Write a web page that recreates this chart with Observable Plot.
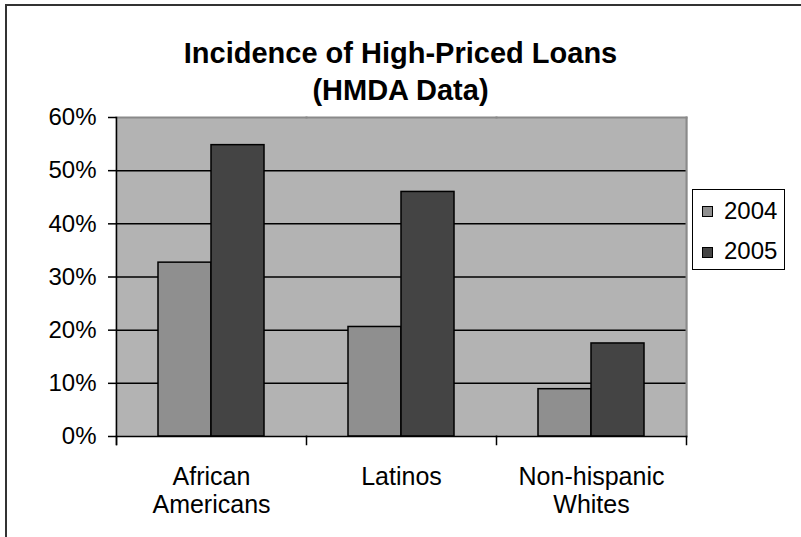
<!DOCTYPE html>
<html>
<head>
<meta charset="utf-8">
<script src="https://cdn.jsdelivr.net/npm/d3@7"></script>
<script src="https://cdn.jsdelivr.net/npm/@observablehq/plot@0.6"></script>
<style>
  body { margin: 0; background: #fff; }
  #chart { position: relative; width: 801px; height: 537px; overflow: hidden;
           font-family: "Liberation Sans", Arial, sans-serif; color: #000; }
  #border { position: absolute; left: 5px; top: 4px; width: 900px; height: 700px;
            border: 2px solid #333; box-sizing: border-box; }
  #plot { position: absolute; left: 0; top: 0; }
  #title { position: absolute; left: 0; top: 35px; width: 801px; text-align: center;
           font-weight: bold; font-size: 29px; line-height: 37px; }
  #legend { position: absolute; left: 692px; top: 189px; width: 93px; height: 81px;
            border: 1px solid #000; box-sizing: border-box; background: #fff; }
  .sw { position: absolute; left: 9px; width: 11px; height: 11px; border: 1px solid #000; box-sizing: border-box; }
  .lb { position: absolute; left: 31px; font-size: 24px; line-height: 24px; }
</style>
</head>
<body>
<div id="chart">
  <div id="border"></div>
  <div id="plot"></div>
  <div id="title">Incidence of High-Priced Loans<br>(HMDA Data)</div>
  <div id="legend"></div>
</div>
<script>
// Share of loans that were high-priced, by group and year (percent)
const categories = ["African Americans", "Latinos", "Non-hispanic Whites"];
const categoryLabels = ["African\nAmericans", "Latinos", "Non-hispanic\nWhites"];
const years = ["2004", "2005"];
const values2004 = [32.7, 20.6, 8.9];
const values2005 = [54.8, 46.0, 17.5];
const yearColors = ["#8f8f8f", "#444444"];
const yTicks = [0, 10, 20, 30, 40, 50, 60];

const rows = categories.flatMap((c, i) => [
  {category: c, year: years[0], value: values2004[i]},
  {category: c, year: years[1], value: values2005[i]}
]);

const W = 801, H = 537;
const mTop = 117, mBottom = 101, mLeft = 115, mRight = 114;
const innerH = H - mTop - mBottom;

const chart = Plot.plot({
  width: W,
  height: H,
  marginTop: mTop,
  marginBottom: mBottom,
  marginLeft: mLeft,
  marginRight: mRight,
  style: {fontFamily: '"Liberation Sans", Arial, sans-serif', color: "#000", background: "transparent"},
  fx: {domain: categories, padding: 0, label: null},
  x: {domain: years, paddingInner: 0, paddingOuter: 0.765, axis: null},
  y: {domain: [0, 60], label: null},
  color: {domain: years, range: yearColors},
  marks: [
    // plot area background (panels overlap slightly so no seams show) and edges
    Plot.frame({fill: "#b3b3b3", stroke: null, insetLeft: -1, insetRight: -1}),
    Plot.gridY(yTicks.filter(t => t > 0 && t < 60), {stroke: "#000", strokeOpacity: 1, strokeWidth: 1.5}),
    Plot.frame({anchor: "top", stroke: "#8a8a8a", strokeWidth: 2}),
    Plot.frame({anchor: "right", facetAnchor: "right", stroke: "#8a8a8a", strokeWidth: 2}),
    // grouped bars
    Plot.barY(rows, {fx: "category", x: "year", y: "value", fill: "year", stroke: "#000", strokeWidth: 1.5}),
    // axis lines and category boundary ticks
    Plot.frame({anchor: "bottom", stroke: "#000", strokeWidth: 1.5}),
    Plot.frame({anchor: "left", facetAnchor: "left", stroke: "#000", strokeWidth: 1.5, insetBottom: -8}),
    Plot.frame({anchor: "left", stroke: "#000", strokeWidth: 1.5, insetTop: innerH, insetBottom: -8}),
    Plot.frame({anchor: "right", facetAnchor: "right", stroke: "#000", strokeWidth: 1.5, insetTop: innerH, insetBottom: -8}),
    Plot.axisY({ticks: yTicks, tickFormat: d => d + "%", tickSize: 8, tickPadding: 12,
                fontSize: 24, strokeWidth: 1.5, label: null}),
    Plot.axisFx({anchor: "bottom", tickSize: 0, tickPadding: 29, fontSize: 25, lineHeight: 1.12,
                 tickFormat: d => categoryLabels[categories.indexOf(d)], label: null})
  ]
});
document.getElementById("plot").appendChild(chart);

// legend
const legend = document.getElementById("legend");
years.forEach((yr, i) => {
  const sw = document.createElement("div");
  sw.className = "sw";
  sw.style.top = (16 + i * 41) + "px";
  sw.style.background = yearColors[i];
  legend.appendChild(sw);
  const lb = document.createElement("div");
  lb.className = "lb";
  lb.style.top = (9 + i * 40) + "px";
  lb.textContent = yr;
  legend.appendChild(lb);
});
</script>
</body>
</html>
